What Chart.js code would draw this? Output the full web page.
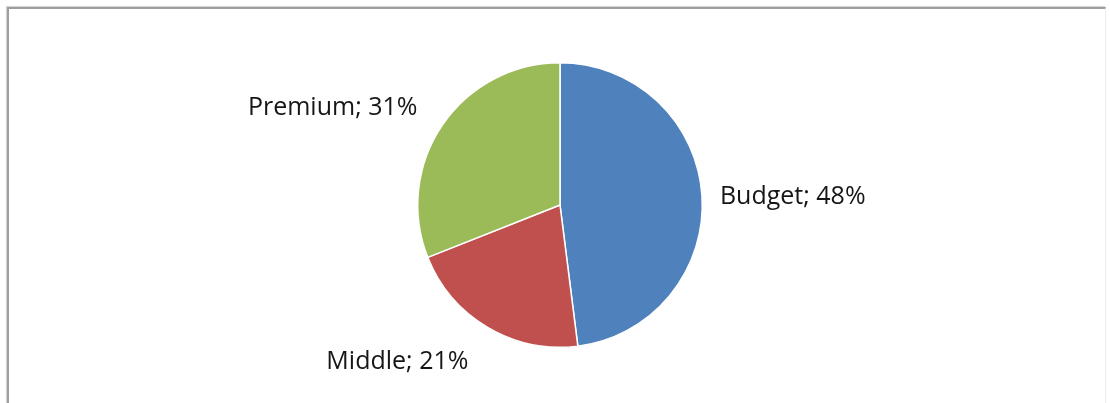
<!DOCTYPE html>
<html>
<head>
<meta charset="utf-8">
<script src="https://cdn.jsdelivr.net/npm/chart.js@4/dist/chart.umd.min.js"></script>
<style>
  html, body { margin: 0; padding: 0; background: #fff; }
  body { width: 1110px; height: 403px; overflow: hidden; position: relative; }
  #frame {
    position: absolute; left: 7px; top: 7px; width: 1096px; height: 420px;
    border-left: 2px solid #9e9e9e; border-top: 2px solid #9e9e9e;
    border-right: 1px solid #ececec;
    box-shadow: -1px -1px 1px #d8d8d8;
  }
  #box { position: absolute; left: 9px; top: 9px; width: 1102px; height: 394px; }
</style>
</head>
<body>
<div id="frame"></div>
<div id="box"><canvas id="segment-pie"></canvas></div>
<script>
var segments = ["Budget", "Middle", "Premium"];
var shares = [48, 21, 31];
var sliceColors = ["#4f81bd", "#c0504d", "#9bbb59"];

// Excel-style "outside end" labels: "Name; NN%"
var outsideLabels = {
    id: 'outsideLabels',
    afterDatasetsDraw: function (chart) {
        var c = chart.ctx;
        var arcs = chart.getDatasetMeta(0).data;
        c.save();
        c.font = '25px "Open Sans", sans-serif';
        c.fillStyle = '#161616';
        c.textBaseline = 'middle';
        arcs.forEach(function (arc, i) {
            var mid = (arc.startAngle + arc.endAngle) / 2;
            var r = arc.outerRadius + 18;
            var dx = Math.cos(mid), dy = Math.sin(mid);
            var x = arc.x + dx * r;
            var y = arc.y + dy * r + dy * 18 + 3;
            if (dx < -0.3) {
                c.textAlign = 'right';
                x -= 10;
            } else {
                c.textAlign = dx > 0.3 ? 'left' : 'center';
            }
            c.fillText(segments[i] + '; ' + shares[i] + '%', x, y);
        });
        c.restore();
    }
};

var myChart = new Chart(document.getElementById('segment-pie'), {
    type: 'pie',
    data: {
        labels: segments,
        datasets: [{
            data: shares,
            backgroundColor: sliceColors,
            borderColor: '#ffffff',
            borderWidth: 1.5
        }]
    },
    options: {
        responsive: true,
        maintainAspectRatio: false,
        animation: false,
        layout: { padding: { top: 53, bottom: 55 } },
        plugins: {
            legend: { display: false },
            tooltip: { enabled: false },
            title: { display: false }
        }
    },
    plugins: [outsideLabels]
});
</script>
</body>
</html>
